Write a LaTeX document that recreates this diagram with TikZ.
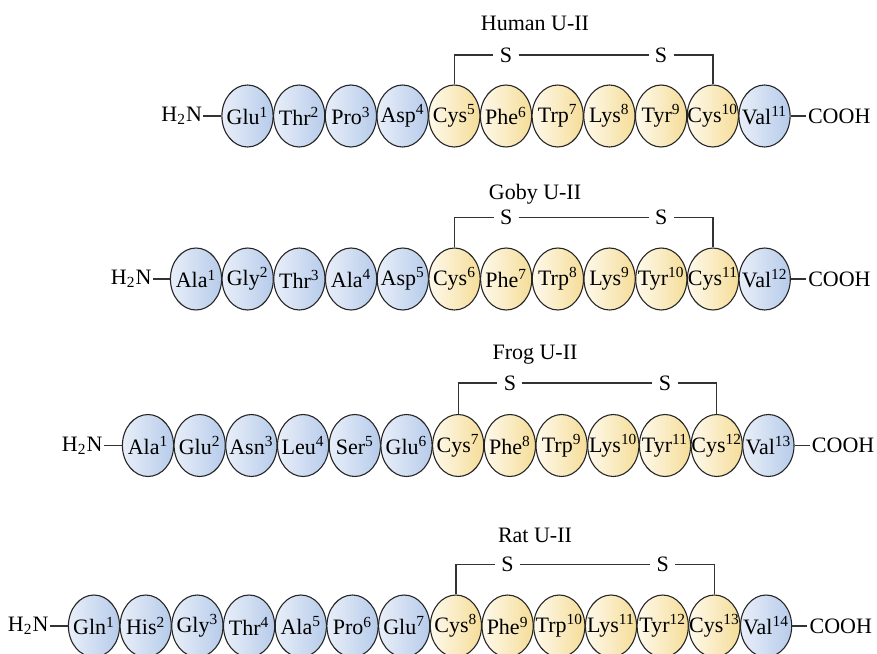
\documentclass[tikz,border=0pt]{standalone}
\usepackage{fontspec}
\setmainfont{Liberation Serif}
\usetikzlibrary{shapes.geometric}
\usetikzlibrary{positioning}
\definecolor{bl}{HTML}{E9EFF9}
\definecolor{bd}{HTML}{B6CBEA}
\definecolor{gl}{HTML}{FEF9EC}
\definecolor{gd}{HTML}{F5DD98}
\newcommand*{\rstep}{51.7}
\newcommand*{\sgap }{3pt}

\begin{document}
\begin{tikzpicture}[x=0.5pt, y=-0.5pt, font=\fontsize{11}{13}\selectfont,
    res/.style={ellipse, draw=black!85, line width=0.55pt, inner sep=0pt,
        minimum width=25.6pt, minimum height=31pt, left color=#1l, right color=#1d},
    bond/.style={draw=black!80, line width=0.7pt},
    sulf/.style={inner sep=\sgap}]
    \useasboundingbox (0,0) rectangle (877,653);

    % Human U-II
    \node (htitle) at (535,23) {Human U-II};
    \coordinate (hs) at (0,55);
    \foreach \aa/\tint [count=\i] in {Glu/b,Thr/b,Pro/b,Asp/b,Cys/g,Phe/g,Trp/g,Lys/g,Tyr/g,Cys/g,Val/b}
        \node [res=\tint] (h\i) at ({247.5+(\i-1)*\rstep},116) {\makebox[0pt]{\aa\textsuperscript{\i}}};
    \node [left=9pt of h1, inner sep=0.5pt] (hn) {H\textsubscript{2}N};
    \node [right=7.5pt of h11, inner sep=1pt] (hc) {COOH};
    \draw [bond] (hn) -- (h1) (h11) -- (hc);
    \node [sulf] (hs1) at (h6 |- hs) {S};
    \node [sulf] (hs2) at (h9 |- hs) {S};
    \draw [bond] (h5.north) |- (hs1.west) (hs1.east) -- (hs2.west) (hs2.east) -| (h10.north);

    % Goby U-II
    \node (gtitle) at (535,194) {Goby U-II};
    \coordinate (gs) at (0,217.5);
    \foreach \aa/\tint [count=\i] in {Ala/b,Gly/b,Thr/b,Ala/b,Asp/b,Cys/g,Phe/g,Trp/g,Lys/g,Tyr/g,Cys/g,Val/b}
        \node [res=\tint] (g\i) at ({196+(\i-1)*\rstep},279) {\makebox[0pt]{\aa\textsuperscript{\i}}};
    \node [left=8.5pt of g1, inner sep=0.5pt] (gn) {H\textsubscript{2}N};
    \node [right=7.5pt of g12, inner sep=1pt] (gc) {COOH};
    \draw [bond] (gn) -- (g1) (g12) -- (gc);
    \node [sulf] (gs1) at (g7 |- gs) {S};
    \node [sulf] (gs2) at (g10 |- gs) {S};
    \draw [bond] (g6.north) |- (gs1.west) (gs1.east) -- (gs2.west) (gs2.east) -| (g11.north);

    % Frog U-II
    \node (ftitle) at (535,355) {Frog U-II};
    \coordinate (fs) at (0,383);
    \foreach \aa/\tint [count=\i] in {Ala/b,Glu/b,Asn/b,Leu/b,Ser/b,Glu/b,Cys/g,Phe/g,Trp/g,Lys/g,Tyr/g,Cys/g,Val/b}
        \node [res=\tint] (f\i) at ({148+(\i-1)*\rstep},445.5) {\makebox[0pt]{\aa\textsuperscript{\i}}};
    \node [left=9pt of f1, inner sep=0.5pt] (fn) {H\textsubscript{2}N};
    \node [right=7.5pt of f13, inner sep=1pt] (fc) {COOH};
    \draw [bond] (fn) -- (f1) (f13) -- (fc);
    \node [sulf] (fs1) at (f8 |- fs) {S};
    \node [sulf] (fs2) at (f11 |- fs) {S};
    \draw [bond] (f7.north) |- (fs1.west) (fs1.east) -- (fs2.west) (fs2.east) -| (f12.north);

    % Rat U-II
    \node (rtitle) at (535,535) {Rat U-II};
    \coordinate (rs) at (0,564.5);
    \foreach \aa/\tint [count=\i] in {Gln/b,His/b,Gly/b,Thr/b,Ala/b,Pro/b,Glu/b,Cys/g,Phe/g,Trp/g,Lys/g,Tyr/g,Cys/g,Val/b}
        \node [res=\tint] (r\i) at ({94+(\i-1)*\rstep},626) {\makebox[0pt]{\aa\textsuperscript{\i}}};
    \node [left=9pt of r1, inner sep=0.5pt] (rn) {H\textsubscript{2}N};
    \node [right=7.5pt of r14, inner sep=1pt] (rc) {COOH};
    \draw [bond] (rn) -- (r1) (r14) -- (rc);
    \node [sulf] (rs1) at (r9 |- rs) {S};
    \node [sulf] (rs2) at (r12 |- rs) {S};
    \draw [bond] (r8.north) |- (rs1.west) (rs1.east) -- (rs2.west) (rs2.east) -| (r13.north);
\end{tikzpicture}
\end{document}
